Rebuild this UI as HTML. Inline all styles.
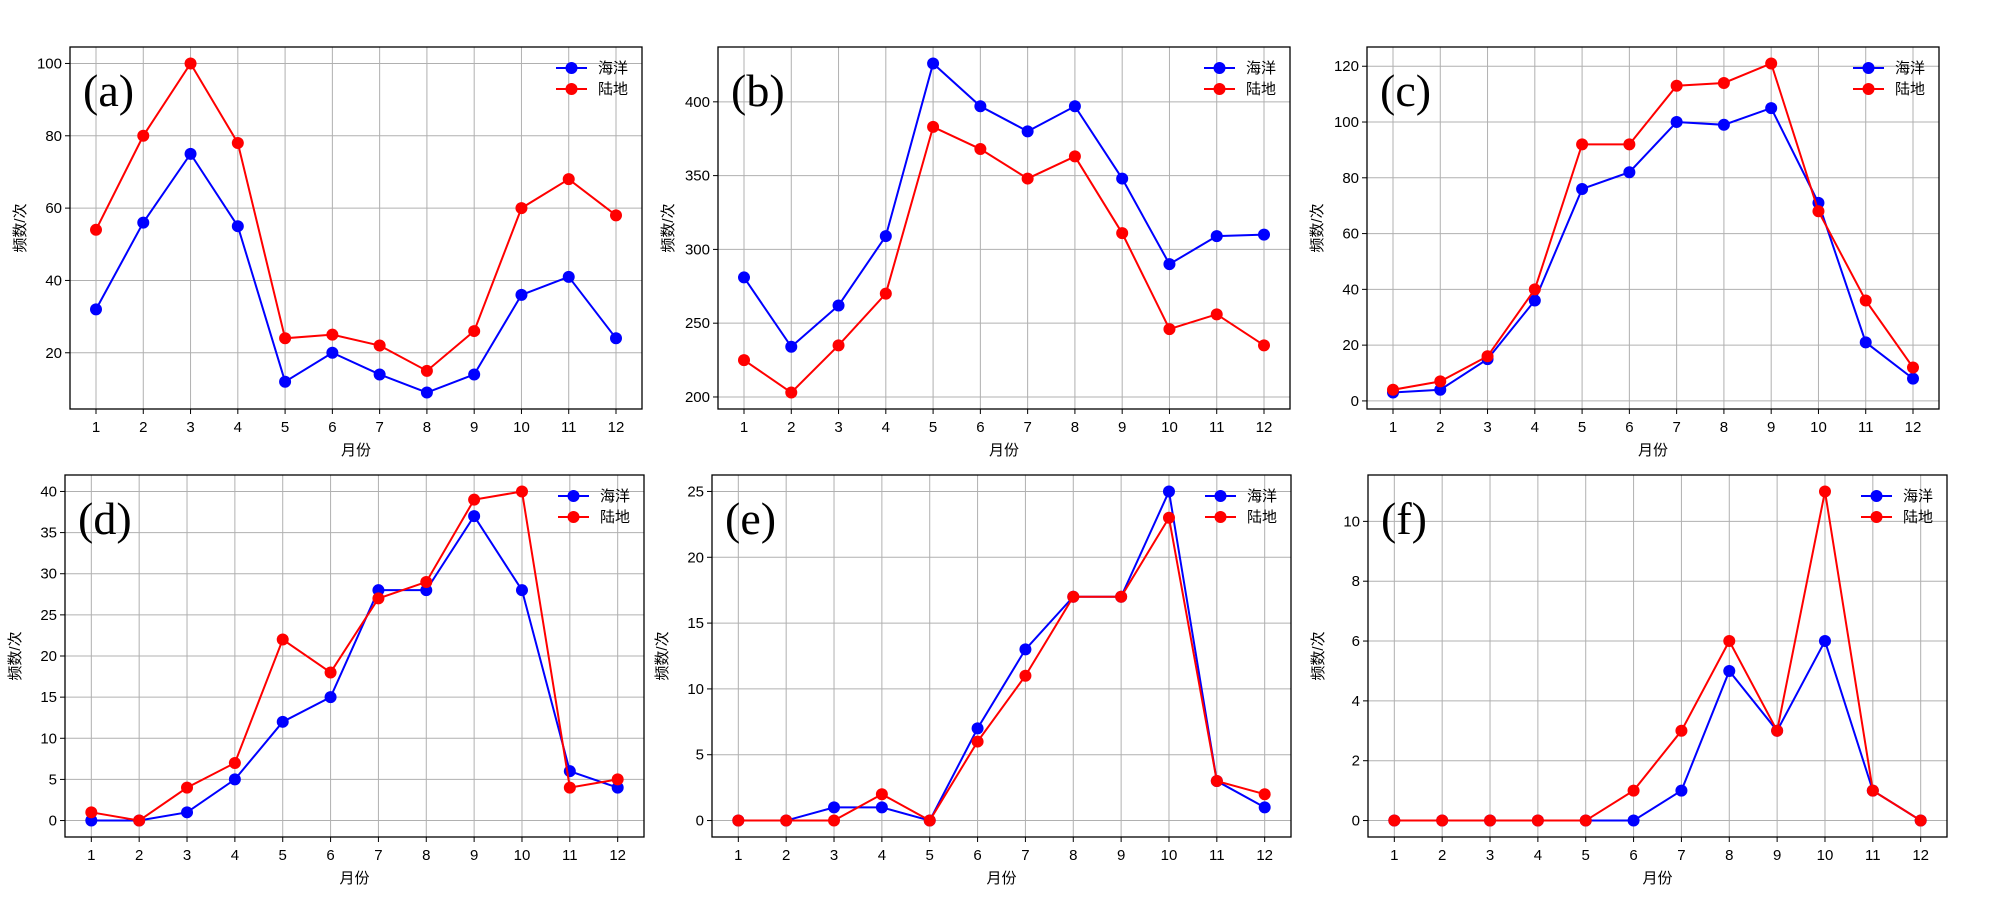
<!DOCTYPE html>
<html><head><meta charset="utf-8"><style>
html,body{margin:0;padding:0;background:#fff;}
svg{display:block;}
text{font-family:"Liberation Sans","Noto Sans CJK SC",sans-serif;}
text.plab{font-family:"Liberation Serif",serif;}
</style></head>
<body>
<svg id="fig" width="2000" height="924" viewBox="0 0 2000 924" xmlns="http://www.w3.org/2000/svg"></svg>
<script>
const months = [1,2,3,4,5,6,7,8,9,10,11,12];
const oceanA = [32,56,75,55,12,20,14,9,14,36,41,24];
const landA  = [54,80,100,78,24,25,22,15,26,60,68,58];
const oceanB = [281,234,262,309,426,397,380,397,348,290,309,310];
const landB  = [225,203,235,270,383,368,348,363,311,246,256,235];
const oceanC = [3,4,15,36,76,82,100,99,105,71,21,8];
const landC  = [4,7,16,40,92,92,113,114,121,68,36,12];
const oceanD = [0,0,1,5,12,15,28,28,37,28,6,4];
const landD  = [1,0,4,7,22,18,27,29,39,40,4,5];
const oceanE = [0,0,1,1,0,7,13,17,17,25,3,1];
const landE  = [0,0,0,2,0,6,11,17,17,23,3,2];
const oceanF = [0,0,0,0,0,0,1,5,3,6,1,0];
const landF  = [0,0,0,0,0,1,3,6,3,11,1,0];
const ticksA = [20,40,60,80,100];
const ticksB = [200,250,300,350,400];
const ticksC = [0,20,40,60,80,100,120];
const ticksD = [0,5,10,15,20,25,30,35,40];
const ticksE = [0,5,10,15,20,25];
const ticksF = [0,2,4,6,8,10];
const panelLabels = ["(a)","(b)","(c)","(d)","(e)","(f)"];

const layout = [
  {x0:70,x1:642,y0:47,y1:409},
  {x0:718,x1:1290,y0:47,y1:409},
  {x0:1367,x1:1939,y0:47,y1:409},
  {x0:65,x1:644,y0:475,y1:837},
  {x0:712,x1:1291,y0:475,y1:837},
  {x0:1368,x1:1947,y0:475,y1:837}
];
const series = [[oceanA,landA,ticksA],[oceanB,landB,ticksB],[oceanC,landC,ticksC],
                [oceanD,landD,ticksD],[oceanE,landE,ticksE],[oceanF,landF,ticksF]];
const NS = "http://www.w3.org/2000/svg";
const svg = document.getElementById('fig');
function mk(tag, attrs, parent){
  const e = document.createElementNS(NS, tag);
  for (const k in attrs) e.setAttribute(k, attrs[k]);
  (parent||svg).appendChild(e);
  return e;
}
series.forEach((s, pi) => {
  const L = layout[pi];
  const [ocean, land, ticks] = s;
  const all = ocean.concat(land);
  const mn = Math.min(...all), mx = Math.max(...all);
  const pad = (mx - mn) * 0.05;
  const yLo = mn - pad, yHi = mx + pad;
  const xLo = 0.45, xHi = 12.55;
  const X = v => L.x0 + (v - xLo) / (xHi - xLo) * (L.x1 - L.x0);
  const Y = v => L.y1 - (v - yLo) / (yHi - yLo) * (L.y1 - L.y0);
  const g = mk('g', {});
  
  
  months.forEach(m => {
    const l = mk('line', {x1:X(m), x2:X(m), y1:L.y0, y2:L.y1, stroke:'#b0b0b0', 'stroke-width':1}, g);
    
    
    const t = mk('line', {x1:X(m), x2:X(m), y1:L.y1, y2:L.y1+5, stroke:'#000', 'stroke-width':1}, g);
    
    
    const tx = mk('text', {x:X(m), y:L.y1+23, 'font-size':15, 'text-anchor':'middle', fill:'#000'}, g);
    tx.textContent = m;
    
    
  });
  ticks.forEach(v => {
    const l = mk('line', {x1:L.x0, x2:L.x1, y1:Y(v), y2:Y(v), stroke:'#b0b0b0', 'stroke-width':1}, g);
    
    
    const t = mk('line', {x1:L.x0-5, x2:L.x0, y1:Y(v), y2:Y(v), stroke:'#000', 'stroke-width':1}, g);
    
    
    const tx = mk('text', {x:L.x0-8, y:Y(v)+5, 'font-size':15, 'text-anchor':'end', fill:'#000'}, g);
    tx.textContent = v;
    
    
  });
  [[ocean,'#0000ff','ocean-series'],[land,'#ff0000','land-series']].forEach(([d,c,n]) => {
    const pts = d.map((v,i) => X(months[i]) + ',' + Y(v)).join(' ');
    const pl = mk('polyline', {points:pts, fill:'none', stroke:c, 'stroke-width':2}, g);
    
    
    d.forEach((v,i) => {
      const ci = mk('circle', {cx:X(months[i]), cy:Y(v), r:6, fill:c}, g);
      
      
    });
  });
  const fr = mk('rect', {x:L.x0, y:L.y0, width:L.x1-L.x0, height:L.y1-L.y0, fill:'none', stroke:'#000', 'stroke-width':1.3}, g);
  
  
  const pl = mk('text', {x:L.x0+13, y:L.y0+59, 'font-size':46, fill:'#000', 'class':'plab'}, g);
  pl.textContent = panelLabels[pi];
  
  
  const xl = mk('text', {x:(L.x0+L.x1)/2, y:L.y1+46, 'font-size':15, 'text-anchor':'middle', fill:'#000'}, g);
  xl.textContent = '月份';
  
  
  const cy = (L.y0+L.y1)/2;
  const yl = mk('text', {x:L.x0-45, y:cy, 'font-size':15, 'text-anchor':'middle', fill:'#000', transform:'rotate(-90 '+(L.x0-45)+' '+cy+')'}, g);
  yl.textContent = '频数/次';
  
  
  const lx = L.x1 - 86, ly = L.y0 + 21;
  [['海洋','#0000ff'],['陆地','#ff0000']].forEach(([lab,c],k) => {
    const yy = ly + k*21;
    const ll = mk('line', {x1:lx, x2:lx+31, y1:yy, y2:yy, stroke:c, 'stroke-width':2}, g);
    
    
    const lc = mk('circle', {cx:lx+15.5, cy:yy, r:6, fill:c}, g);
    
    
    const lt = mk('text', {x:lx+42, y:yy+5, 'font-size':15, fill:'#000'}, g);
    lt.textContent = lab;
    
    
  });
});
</script>
</body></html>
